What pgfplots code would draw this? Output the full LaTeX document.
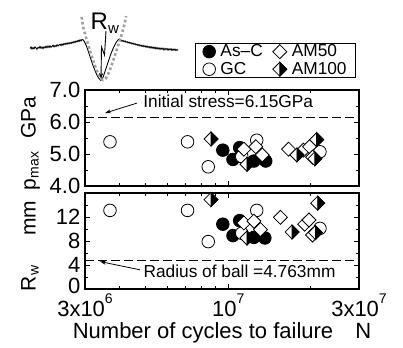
\documentclass[border=0pt]{standalone}
\usepackage{fontspec}
\setmainfont{Liberation Sans}
\usepackage{pgfplots}
\pgfplotsset{compat=1.18}
\usetikzlibrary{arrows.meta}

% diamond with equal width and height
\pgfdeclareplotmark{sqdiamond}{%
  \pgfpathmoveto{\pgfqpoint{0pt}{\pgfplotmarksize}}%
  \pgfpathlineto{\pgfqpoint{\pgfplotmarksize}{0pt}}%
  \pgfpathlineto{\pgfqpoint{0pt}{-\pgfplotmarksize}}%
  \pgfpathlineto{\pgfqpoint{-\pgfplotmarksize}{0pt}}%
  \pgfpathclose
  \pgfusepathqfillstroke}
% same diamond, right half filled black
\pgfdeclareplotmark{halfdiamond}{%
  \pgfpathmoveto{\pgfqpoint{0pt}{\pgfplotmarksize}}%
  \pgfpathlineto{\pgfqpoint{\pgfplotmarksize}{0pt}}%
  \pgfpathlineto{\pgfqpoint{0pt}{-\pgfplotmarksize}}%
  \pgfpathlineto{\pgfqpoint{-\pgfplotmarksize}{0pt}}%
  \pgfpathclose
  \pgfusepathqfillstroke
  \pgfscope
  \pgfsetfillcolor{black}%
  \pgfpathmoveto{\pgfqpoint{0pt}{\pgfplotmarksize}}%
  \pgfpathlineto{\pgfqpoint{\pgfplotmarksize}{0pt}}%
  \pgfpathlineto{\pgfqpoint{0pt}{-\pgfplotmarksize}}%
  \pgfpathclose
  \pgfusepathqfillstroke
  \endpgfscope}

\tikzset{
  asc/.style={mark=*, mark size=6.3pt, mark options={fill=black, draw=black, line width=0.8pt, solid}},
  gc/.style={mark=*, mark size=6.3pt, mark options={fill=white, draw=black, line width=0.8pt, solid}},
  am50/.style={mark=sqdiamond, mark size=7pt, mark options={fill=white, draw=black, line width=0.8pt, solid}},
  am100/.style={mark=halfdiamond, mark size=7pt, mark options={fill=white, draw=black, line width=0.8pt, solid}},
}
\newcommand\expo[1]{\smash{\raisebox{13pt}{\fontsize{14}{14}\selectfont #1}}}

\begin{document}
\begin{tikzpicture}
\path[use as bounding box] (0pt,0pt) rectangle (403pt,-347pt);

% worn track profile with the fitted ball outline
\begin{axis}[at={(0pt,0pt)}, anchor=north west, scale only axis, width=200pt, height=90pt,
  xmin=0, xmax=200, ymin=0, ymax=90, y dir=reverse, hide axis, clip=false]
\addplot[black, line width=0.9pt] coordinates {
(30,48.5)(31,47)(32,49)(33,47.5)(34,48.8)(35,46.9)(36,48)(37,49.2)(38,47.3)(39,48.1)
(40,46.5)(41,48.4)(42,47)(43,48.6)(44,46.8)(45,47.9)(46,46.2)(47,47.7)(48,46)(49,47.5)
(50,45.8)(51,47.2)(52,46.4)(53,45.2)(54,46.9)(55,45.5)(56,46.6)(57,44.8)(58,46)(59,45.1)
(60,44.2)(61,45.6)(62,44)(63,45.2)(64,43.5)(65,44.6)(66,43.1)(67,44.3)(68,42.8)(69,43.9)
(70,42.5)(71,43.6)(72,42)(73,43)(74,41.4)(75,42.6)(76,41)(77,41.9)(78,40.3)(79,41.5)
(80,39.8)(81,40.9)(82,39.5)(83,39.8)(84,41)(85,43)(86,45)(87,47.5)(88,50.5)(89,53.5)
(90,56.5)(91,59.5)(92,62.5)(93,65.5)(94,68)(95,70.5)(96,73)(97,75)(98,77)(99,78.5)
(100,79.5)(100.8,80.5)(101.6,80)(102.5,78.5)(103.5,76)(104.5,73)(105.5,70)(106.5,67)
(107.5,64)(108.5,61)(109.5,58)(110.5,55)(111.5,52.5)(112.5,50)(113.5,47.5)(114.5,45.5)
(115.5,43.5)(116.5,42)(117.5,40.5)(118.5,39.5)(119.5,39)(120.5,39.5)
(121,40)(122,41.2)(123,40.4)(124,41.8)(125,40.9)(126,42.3)(127,41.5)(128,43)(129,42)
(130,43.4)(131,42.6)(132,44)(133,43.1)(134,44.5)(135,43.6)(136,45)(137,44.2)(138,45.6)
(139,44.6)(140,46)(141,45.1)(142,46.5)(143,45.3)(144,46.8)(145,45.7)(146,47.2)(147,46)
(148,47.5)(149,46.4)(150,48)(151,46.6)(152,48.2)(153,47)(154,48.6)(155,47.2)(156,48.9)
(157,47.5)(158,49)(159,47.8)(160,49.4)(161,48)(162,49.2)(163,48.1)(164,50)(165,48.4)
(166,49.6)(167,48.5)(168,50.2)(169,48.8)(170,49.9)(171,48.7)(172,50.5)(173,49)(174,50.2)
(175,49.1)(176,50.6)(177,49.5)(178,50.3)};
\addplot[gray!75, line width=2.6pt, dash pattern=on 2.6pt off 2.4pt, smooth] coordinates {
(81.7,17)(83,26)(85,34)(88,44)(91,54)(94,63)(97,71)(100,77.5)(103,80)(106,78)(109,72)
(112,64)(115,55)(118,46)(121,37)(123.5,28)(125,22)(126,16)};
\addplot[black, line width=0.9pt, -{Stealth[length=6pt,width=4pt]}] coordinates {
(106,31)(104.5,55)(101.5,47)(101,79)};
\node[anchor=base west, inner sep=0pt, font=\fontsize{24}{24}\selectfont] at (axis cs:90.5,30)
  {R\raisebox{-4pt}{\fontsize{15}{15}\selectfont w}};
\end{axis}

% maximum contact pressure
\begin{axis}[at={(85pt,-90pt)}, anchor=north west,
  scale only axis, width=274pt, height=96pt,
  xmode=log, xmin=3e6, xmax=3e7,
  xtick={3e6,1e7,3e7}, minor xtick={4e6,5e6,6e6,7e6,8e6,9e6,2e7},
  xtick pos=both, ytick pos=both, tick align=inside,
  major tick length=5pt, minor tick length=3pt,
  axis line style={line width=1.1pt},
  every tick/.style={black, line width=0.9pt},
  tick label style={font=\fontsize{22}{22}\selectfont},
  yticklabel style={inner sep=0pt, xshift=-4.5pt},
  clip=false,
  xticklabels={},
  ymin=4, ymax=7, ytick={4,5,6,7}, minor ytick={4.5,5.5,6.5},
  yticklabels={4.0,5.0,6.0,7.0},
  legend columns=2, legend cell align=left,
  legend image code/.code={\draw[#1] plot coordinates {(7pt,0pt)};},
  legend style={at={(axis description cs:0.989,1.49)}, anchor=north east,
    draw=black, line width=0.8pt, inner xsep=7pt, inner ysep=1pt,
    font=\fontsize{17.3}{17.3}\selectfont, row sep=3pt,
    nodes={inner ysep=0.5pt},
    /tikz/every odd column/.append style={column sep=3pt},
    /tikz/every even column/.append style={column sep=8pt}},
]
\addlegendimage{asc}
\addlegendimage{am50}
\addlegendimage{gc}
\addlegendimage{am100}
\legend{As--C, AM50, GC, AM100}

\addplot[black, line width=0.9pt, dash pattern=on 9pt off 4pt, forget plot] coordinates {(3e6,6.15)(3e7,6.15)};

\addplot[only marks, asc, forget plot] coordinates {
(9.55e6,5.12)(1.04e7,4.83)(1.10e7,5.20)(1.24e7,4.78)(1.37e7,4.78)};
\addplot[only marks, gc, forget plot] coordinates {
(3.7e6,5.38)(7.1e6,5.38)(8.45e6,4.60)(1.27e7,5.43)(1.12e7,4.92)(2.16e7,5.07)};
\addplot[only marks, am50, forget plot] coordinates {
(1.14e7,5.15)(1.26e7,5.23)(1.33e7,4.97)(1.66e7,5.15)(1.88e7,5.12)(1.98e7,5.23)(2.03e7,4.90)};
\addplot[only marks, am100, forget plot] coordinates {
(8.65e6,5.47)(1.17e7,4.68)(1.78e7,4.97)(2.10e7,5.45)(2.07e7,4.85)};

\draw[black, line width=0.8pt, -{Stealth[length=6pt,width=4pt]}] (axis cs:4.64e6,6.59) -- (axis cs:3.55e6,6.28);
\node[anchor=base west, inner sep=0pt, font=\fontsize{17.3}{17.3}\selectfont] at (axis cs:4.89e6,6.44)
  {Initial stress=6.15GPa};
\end{axis}

% worn track radius
\begin{axis}[at={(85pt,-193pt)}, anchor=north west,
  scale only axis, width=274pt, height=96pt,
  xmode=log, xmin=3e6, xmax=3e7,
  xtick={3e6,1e7,3e7}, minor xtick={4e6,5e6,6e6,7e6,8e6,9e6,2e7},
  xtick pos=both, ytick pos=both, tick align=inside,
  major tick length=5pt, minor tick length=3pt,
  axis line style={line width=1.1pt},
  every tick/.style={black, line width=0.9pt},
  tick label style={font=\fontsize{22}{22}\selectfont},
  yticklabel style={inner sep=0pt, xshift=-4.5pt},
  xticklabel style={inner sep=0pt, anchor=north, yshift=-12pt},
  clip=false,
  xticklabels={3x10\expo{6}, 10\expo{7}, 3x10\expo{7}},
  ymin=0, ymax=16, ytick={0,4,8,12,16}, minor ytick={2,6,10,14},
  yticklabels={{\vphantom{0}\smash{\raisebox{3.5pt}{0}}},4,8,12,{}},
  xlabel={Number of cycles to failure\hspace{16pt} N},
  xlabel style={at={(axis description cs:0.5,0)}, anchor=base, yshift=-49pt, inner sep=0pt,
    font=\fontsize{22}{22}\selectfont},
]
\addplot[black, line width=0.9pt, dash pattern=on 9pt off 4pt] coordinates {(3e6,4.763)(3e7,4.763)};

\addplot[only marks, asc] coordinates {
(9.55e6,10.8)(1.04e7,8.9)(1.10e7,11.4)(1.24e7,8.6)(1.36e7,8.5)};
\addplot[only marks, gc] coordinates {
(3.7e6,13.1)(7.1e6,13.1)(8.45e6,7.9)(1.27e7,13.1)(1.12e7,9.3)(2.16e7,10.1)};
\addplot[only marks, am50] coordinates {
(1.14e7,11.0)(1.24e7,11.3)(1.31e7,9.9)(1.55e7,11.95)(1.90e7,10.8)(1.97e7,11.5)(2.03e7,9.0)};
\addplot[only marks, am100] coordinates {
(8.65e6,14.9)(1.17e7,8.5)(1.71e7,9.5)(2.12e7,14.3)(2.08e7,9.4)};

\draw[black, line width=0.8pt, -{Stealth[length=6pt,width=4pt]}] (axis cs:4.76e6,3.2) -- (axis cs:3.40e6,4.58);
\node[anchor=base west, inner sep=0pt, font=\fontsize{17.3}{17.3}\selectfont] at (axis cs:4.9e6,2.0)
  {Radius of ball =4.763mm};
\end{axis}

% axis titles on the left
\node[rotate=90, anchor=base, inner sep=0pt, font=\fontsize{21}{21}\selectfont] at (35.5pt,-143.5pt)
  {p\raisebox{-3pt}{\fontsize{14}{14}\selectfont max}\hspace{13pt}GPa};
\node[rotate=90, anchor=base, inner sep=0pt, font=\fontsize{21}{21}\selectfont] at (35.5pt,-246pt)
  {R\raisebox{-3pt}{\fontsize{14}{14}\selectfont w}\hspace{30pt}mm};
\end{tikzpicture}
\end{document}
